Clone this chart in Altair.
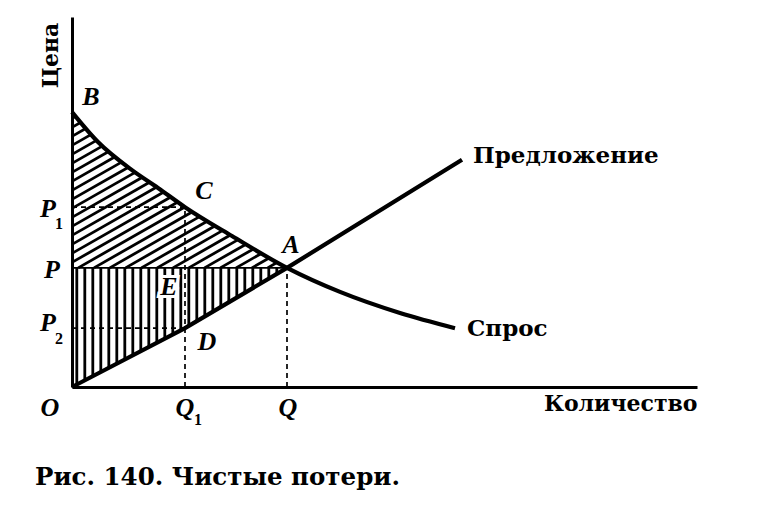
import altair as alt
import numpy as np
import pandas as pd

# Demand curve: price falls as quantity grows (B ... C ... A ... end)
demand_q = [0.0, 0.52, 1.20, 1.72, 2.26, 3.20, 4.30, 5.36, 6.56, 7.66]
demand_p = [7.43, 6.62, 5.86, 5.38, 4.86, 4.08, 3.22, 2.57, 2.00, 1.59]

# Supply curve: O ... D ... A ... end
supply_q = [0.0, 2.26, 4.30, 7.80]
supply_p = [0.0, 1.59, 3.22, 6.14]

q_eq, p_eq = 4.30, 3.22   # equilibrium A
q1 = 2.26                 # restricted quantity Q1
p1, p2 = 4.86, 1.59       # demand price C and supply price D at Q1

X_MAX, Y_MAX = 12.5, 10.0
W, H = 625, 370
PX_X, PX_Y = W / X_MAX, H / Y_MAX

SERIF = "Liberation Serif"
SLAB = "DejaVu Serif"

# ---- hatching of the surplus areas --------------------------------------
# consumer surplus (between P and the demand curve): slanted strokes
m = 0.57 * PX_X / PX_Y
step_d = 9 / PX_Y
xs = np.linspace(0, q_eq, 4000)
dem = np.interp(xs, demand_q, demand_p)
diag = []
c = demand_p[0] - step_d * 0.7
while c > p_eq - m * q_eq:
    x0 = max(0.0, (p_eq - c) / m)
    hit = np.nonzero(m * xs + c >= dem)[0]
    if len(hit):
        x1 = xs[hit[0]]
        if x1 > x0:
            diag.append({"x": x0, "y": m * x0 + c, "x2": x1, "y2": m * x1 + c})
    c -= step_d
diag_df = pd.DataFrame(diag)

# producer surplus (between the supply curve and P): vertical strokes
step_v = 8 / PX_X
vx = np.arange(step_v * 0.6, q_eq, step_v)
vert_df = pd.DataFrame({"x": vx, "y": np.interp(vx, supply_q, supply_p), "y2": p_eq})


x_axis = alt.Axis(
    title="Количество", domain=True, domainWidth=3, domainColor="black",
    ticks=False, labels=False, grid=False,
    titleX=W, titleY=16, titleAlign="right", titleBaseline="middle",
    titleFont=SLAB, titleFontSize=22, titleFontWeight="bold", titleColor="black",
)
y_axis = alt.Axis(
    title="Цена", domain=True, domainWidth=3, domainColor="black",
    ticks=False, labels=False, grid=False,
    titleAngle=270, titleX=-22, titleY=38, titleAlign="center", titleBaseline="middle",
    titleFont=SLAB, titleFontSize=22, titleFontWeight="bold", titleColor="black",
)


def X(field):
    return alt.X(field, type="quantitative", axis=x_axis,
                 scale=alt.Scale(domain=[0, X_MAX], nice=False, zero=False))


def Y(field):
    return alt.Y(field, type="quantitative", axis=y_axis,
                 scale=alt.Scale(domain=[0, Y_MAX], nice=False, zero=False))


hatch_diag = alt.Chart(diag_df).mark_rule(color="black", strokeWidth=2.8).encode(
    x=X("x"), y=Y("y"), x2="x2", y2="y2")
hatch_vert = alt.Chart(vert_df).mark_rule(color="black", strokeWidth=2.8).encode(
    x=X("x"), y=Y("y"), y2="y2")

price_line = alt.Chart(pd.DataFrame({"x": [0.0], "x2": [q_eq], "y": [p_eq]})).mark_rule(
    color="black", strokeWidth=1.8).encode(x=X("x"), x2="x2", y=Y("y"))

dash_df = pd.DataFrame({
    "x": [0.0, 0.0, q1, q_eq],
    "x2": [q1, q1, q1, q_eq],
    "y": [p1, p2, 0.0, 0.0],
    "y2": [p1, p2, p1, p_eq],
})
dashes = alt.Chart(dash_df).mark_rule(color="black", strokeWidth=1.7, strokeDash=[5, 4]).encode(
    x=X("x"), x2="x2", y=Y("y"), y2="y2")

demand = alt.Chart(pd.DataFrame({"q": demand_q, "p": demand_p})).mark_line(
    color="black", strokeWidth=4.2, interpolate="monotone").encode(x=X("q"), y=Y("p"), order="q:Q")
supply = alt.Chart(pd.DataFrame({"q": supply_q, "p": supply_p})).mark_line(
    color="black", strokeWidth=4.2).encode(x=X("q"), y=Y("p"), order="q:Q")


def label(text, x, y, dx, dy, size=26, font=SERIF, style="italic", weight="bold",
          align="center", halo=False):
    df = pd.DataFrame({"x": [x], "y": [y], "t": [text]})
    kw = dict(dx=dx, dy=dy, fontSize=size, font=font, fontStyle=style, fontWeight=weight,
              align=align, baseline="middle")
    enc = dict(x=X("x"), y=Y("y"), text="t:N")
    layers = []
    if halo:
        layers.append(alt.Chart(df).mark_text(color="white", stroke="white", strokeWidth=6, **kw).encode(**enc))
    layers.append(alt.Chart(df).mark_text(color="black", **kw).encode(**enc))
    return layers


labels = []
labels += label("B", 0, demand_p[0], 19, -15)
labels += label("C", q1, p1, 19, -16)
labels += label("A", q_eq, p_eq, 4, -23)
labels += label("E", q1, p_eq, -16, 19, halo=True)
labels += label("D", q1, p2, 22, 14)
labels += label("O", 0, 0, -22, 21)
labels += label("Q", q1, 0, 0, 21)
labels += label("1", q1, 0, 13, 33, size=16, style="normal")
labels += label("Q", q_eq, 0, 1, 21)
labels += label("P", 0, p1, -24, 2)
labels += label("1", 0, p1, -13, 17, size=16, style="normal")
labels += label("P", 0, p_eq, -20, 2)
labels += label("P", 0, p2, -24, -5)
labels += label("2", 0, p2, -13, 11, size=16, style="normal")
labels += label("Предложение", supply_q[-1], supply_p[-1], 11, -4, size=23, font=SLAB,
                style="normal", align="left")
labels += label("Спрос", demand_q[-1], demand_p[-1], 12, 1, size=23, font=SLAB,
                style="normal", align="left")

chart = alt.layer(
    hatch_diag, hatch_vert, price_line, dashes, demand, supply, *labels
).properties(
    width=W, height=H,
    autosize=alt.AutoSizeParams(type="none"),
    padding={"left": 72, "top": 17, "right": 69, "bottom": 131},
    background="white",
    title=alt.Title(
        "Рис. 140. Чистые потери.", orient="bottom", anchor="start", frame="group",
        font=SLAB, fontSize=24.5, fontWeight="bold", color="black", dx=-37, offset=38,
    ),
).configure_view(stroke=None)

chart.save("out.html", embed_options={"renderer": "svg", "actions": False})
